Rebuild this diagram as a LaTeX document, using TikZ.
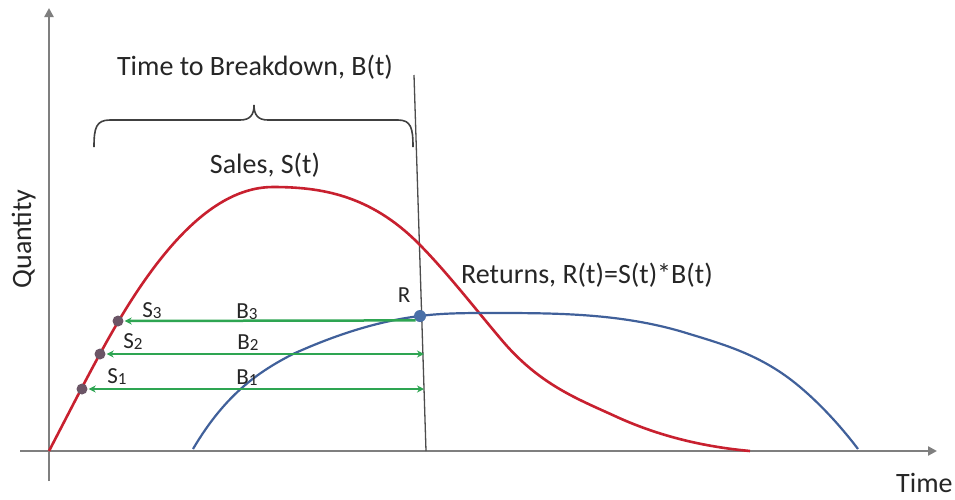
\documentclass[tikz,border=0pt]{standalone}
\usepackage{fontspec}
\setmainfont{Carlito}
\usetikzlibrary{arrows.meta}
\definecolor{salesred}{HTML}{C8202F}
\definecolor{retblue}{HTML}{40609A}
\definecolor{bgreen}{HTML}{2EA552}
\definecolor{axgray}{HTML}{7F7F7F}
\definecolor{sdot}{HTML}{6B5566}
\definecolor{rdot}{HTML}{4A70A8}
\definecolor{txt}{HTML}{262626}
\newcommand{\idx}[1]{\raisebox{-1pt}{\fontsize{17}{17}\selectfont #1}}
\tikzset{
  axis/.style={draw=axgray, line width=2.6pt, -{Triangle[length=9pt,width=9pt]}},
  lbl/.style={text=txt, font=\fontsize{28}{32}\selectfont, inner sep=0pt, anchor=base},
  slbl/.style={text=txt, font=\fontsize{23}{26}\selectfont, inner sep=0pt, anchor=base},
  sdotst/.style={circle, fill=sdot, minimum size=11pt, inner sep=0pt},
  rdotst/.style={circle, fill=rdot, minimum size=12pt, inner sep=0pt},
  barrow/.style={draw=bgreen, line width=2.5pt, {Stealth[length=7pt,width=7pt]}-{Stealth[length=7pt,width=7pt]}, shorten <=1pt},
  barrowl/.style={draw=bgreen, line width=2.5pt, -{Stealth[length=7pt,width=7pt]}, shorten >=1pt},
}
\begin{document}
\begin{tikzpicture}[x=1pt,y=-1pt]
\useasboundingbox[fill=white] (0,0) rectangle (955,499);
% axes
\coordinate (yb) at (49,481);
\coordinate (yt) at (49,8);
\coordinate (xl) at (20,451);
\coordinate (xr) at (937,451);
\draw[axis] (yb) -- (yt);
\draw[axis] (xl) -- (xr);
% vertical breakdown line
\coordinate (vt) at (414,75);
\coordinate (vb) at (426,451);
\draw[draw=black!70, line width=1.3pt] (vt) -- (vb);
% brace
\draw[draw=black!75, line width=1.6pt]
  (94,147) .. controls (94,128) and (96,120) .. (110,120) -- (240,120)
  .. controls (250,120) and (254,115) .. (254,105)
  .. controls (254,115) and (258,120) .. (268,120) -- (398,120)
  .. controls (411,120) and (413,128) .. (413,147);
% sales curve
\draw[draw=salesred, line width=2.6pt]
  (49,451) .. controls (72,407) and (95,361) .. (118,322)
  .. controls (170,234) and (221,187) .. (273,187)
  .. controls (321,187) and (370,195) .. (418,243)
  .. controls (445,270) and (473,306) .. (500,338)
  .. controls (539,385) and (578,399) .. (617,417)
  .. controls (661,437) and (706,447) .. (750,451);
% returns curve
\draw[draw=retblue, line width=2.2pt]
  (193,449) .. controls (226,393) and (260,371) .. (293,354)
  .. controls (335,335) and (378,321) .. (420,316)
  .. controls (443,313) and (467,313) .. (490,313)
  .. controls (554,313) and (619,313) .. (683,332)
  .. controls (722,344) and (761,354) .. (800,387)
  .. controls (819,403) and (839,424) .. (858,449);
% dots
\node[sdotst] (s1) at (82,389) {};
\node[sdotst] (s2) at (100,354) {};
\node[sdotst] (s3) at (118,321) {};
\node[rdotst] (r) at (420,316) {};
\coordinate (e2) at (424,354);
\coordinate (e1) at (424,389);
% green arrows
\draw[barrowl] (r.south west) -- (s3);
\draw[barrow] (s2) -- (e2);
\draw[barrow] (s1) -- (e1);
% labels
\node[lbl] (tb) at (255,75) {Time to Breakdown, B(t)};
\node[lbl] (sl) at (265,173) {Sales, S(t)};
\node[lbl] (rl) at (587,283) {Returns, R(t)=S(t)*B(t)};
\node[slbl] (rlab) at (404,302) {R};
\node[lbl, rotate=90] (ql) at (31,239) {Quantity};
\node[lbl, anchor=base west] (tl) at (896,492) {Time};
\node[slbl] (ls3) at (152,317) {S\idx{3}};
\node[slbl] (ls2) at (133,348) {S\idx{2}};
\node[slbl] (ls1) at (117,383) {S\idx{1}};
\node[slbl] (lb3) at (247,318) {B\idx{3}};
\node[slbl] (lb2) at (248,349) {B\idx{2}};
\node[slbl] (lb1) at (247,384) {B\idx{1}};
\end{tikzpicture}
\end{document}
